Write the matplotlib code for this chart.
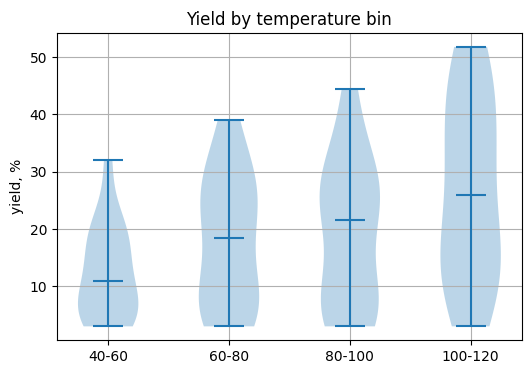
import matplotlib
matplotlib.use('Agg')
import matplotlib.pyplot as plt

bins = ['40-60', '60-80', '80-100', '100-120']

# yield samples per temperature bin, %
yield_40_60 = [3, 3.5, 4, 5, 5.5, 6, 7, 9, 11, 12, 14, 17, 18, 19, 20, 23, 32]
yield_60_80 = [3, 4, 5, 6, 7, 8, 11, 15, 18.5, 21, 24, 25, 27, 28, 30, 34, 39]
yield_80_100 = [3, 4, 5, 5.5, 6, 7, 9, 13, 18, 21.5, 24, 25, 26, 27, 28, 30, 33, 38, 44.5]
yield_100_120 = [3, 6, 9, 12, 14, 16, 17, 19, 26, 30, 33, 36, 39, 43, 46, 49, 51.8]

data = [yield_40_60, yield_60_80, yield_80_100, yield_100_120]

fig, ax = plt.subplots(figsize=(5.31, 3.74), dpi=100)
ax.violinplot(data, showmedians=True)
ax.set_xticks(range(1, len(bins) + 1))
ax.set_xticklabels(bins)
ax.set_ylabel('yield, %')
ax.set_title('Yield by temperature bin')
ax.grid(True)

fig.subplots_adjust(left=0.107, right=0.983, bottom=0.09, top=0.912)
fig.savefig('out.png', dpi=100)
